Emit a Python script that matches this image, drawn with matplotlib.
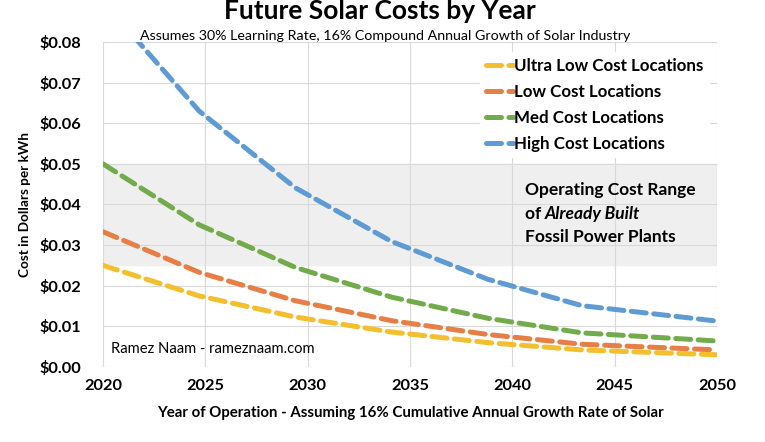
import numpy as np
import matplotlib.pyplot as plt
import matplotlib.ticker as mticker

plt.rcParams['font.family'] = ['Lato', 'DejaVu Sans']

# years where the cost curves bend (one capacity doubling at 16%/yr apart)
years = [2020, 2024.7, 2029.4, 2034.1, 2038.8, 2043.4, 2050]
ultra_low = [0.0250, 0.0175, 0.0123, 0.0086, 0.0060, 0.0042, 0.0030]
low_cost = [0.0333, 0.0233, 0.0163, 0.0114, 0.0080, 0.0056, 0.0042]
med_cost = [0.0500, 0.0350, 0.0245, 0.0172, 0.0120, 0.0084, 0.0064]
high_cost = [0.0900, 0.0630, 0.0441, 0.0309, 0.0216, 0.0151, 0.0113]

labels = ['Ultra Low Cost Locations', 'Low Cost Locations',
          'Med Cost Locations', 'High Cost Locations']
colors = ['#F4BF2C', '#E57F45', '#72AB4B', '#5F9BD3']

fossil_lo, fossil_hi = 0.025, 0.05
xticks = [2020, 2025, 2030, 2035, 2040, 2045, 2050]

fig = plt.figure(figsize=(7.65, 4.42), dpi=100)
ax = fig.add_axes([0.1346, 0.1697, 0.8026, 0.7353])

ax.axhspan(fossil_lo, fossil_hi, color='#EFEFEF', zorder=0)

series = [ultra_low, low_cost, med_cost, high_cost]
for vals, lab, c in zip(series, labels, colors):
    ax.plot(years, vals, color=c, lw=3.6, ls=(0, (3.0, 1.5)),
            dash_capstyle='round', label=lab, zorder=3)

ax.set_xlim(2020, 2050)
ax.set_ylim(0, 0.08)
ax.set_xticks(xticks)
ax.set_yticks(np.arange(0, 0.081, 0.01))
ax.yaxis.set_major_formatter(mticker.FuncFormatter(lambda v, p: f'${v:.2f}'))
ax.grid(True, color='#D9D9D9', lw=0.8, zorder=1)
ax.set_axisbelow(True)
for s in ax.spines.values():
    s.set_visible(False)
ax.tick_params(length=0, labelsize=11.8, pad=9)
for t in ax.get_xticklabels() + ax.get_yticklabels():
    t.set_fontweight('bold')
ax.tick_params(axis='y', pad=16)

ax.set_xlabel('Year of Operation - Assuming 16% Cumulative Annual Growth Rate of Solar',
              fontsize=10.8, fontweight='bold', labelpad=9)
ax.set_ylabel('Cost in Dollars per kWh', fontsize=9.8, fontweight='bold', labelpad=6)

fig.text(0.497, 1.002, 'Future Solar Costs by Year', ha='center', va='top',
         fontsize=19, fontweight='bold')
fig.text(0.503, 0.918, 'Assumes 30% Learning Rate, 16% Compound Annual Growth of Solar Industry',
         ha='center', va='center', fontsize=10.3)

leg = ax.legend(loc='upper left', bbox_to_anchor=(472 / 765, 1 - 44 / 442),
                bbox_transform=fig.transFigure, frameon=True, fancybox=False,
                edgecolor='white', framealpha=1, handlelength=1.6,
                handletextpad=0.1, labelspacing=0.6, borderpad=0.3,
                prop={'weight': 'bold', 'size': 12.2})

tx = 2040.6
ax.text(tx, 0.0436, 'Operating Cost Range', fontsize=12.5, fontweight='bold',
        va='center', zorder=4)
t2 = ax.text(tx, 0.0377, 'of ', fontsize=12.5, fontweight='bold', va='center', zorder=4)
ax.annotate('Already Built', xy=(1, 0), xycoords=t2, va='bottom', ha='left',
            fontsize=12.5, fontweight='bold', style='italic', zorder=4)
ax.text(tx, 0.0320, 'Fossil Power Plants', fontsize=12.5, fontweight='bold',
        va='center', zorder=4)

ax.text(2020.4, 0.0045, 'Ramez Naam - rameznaam.com', fontsize=10.6, va='center')

fig.savefig('out.png', dpi=100)
